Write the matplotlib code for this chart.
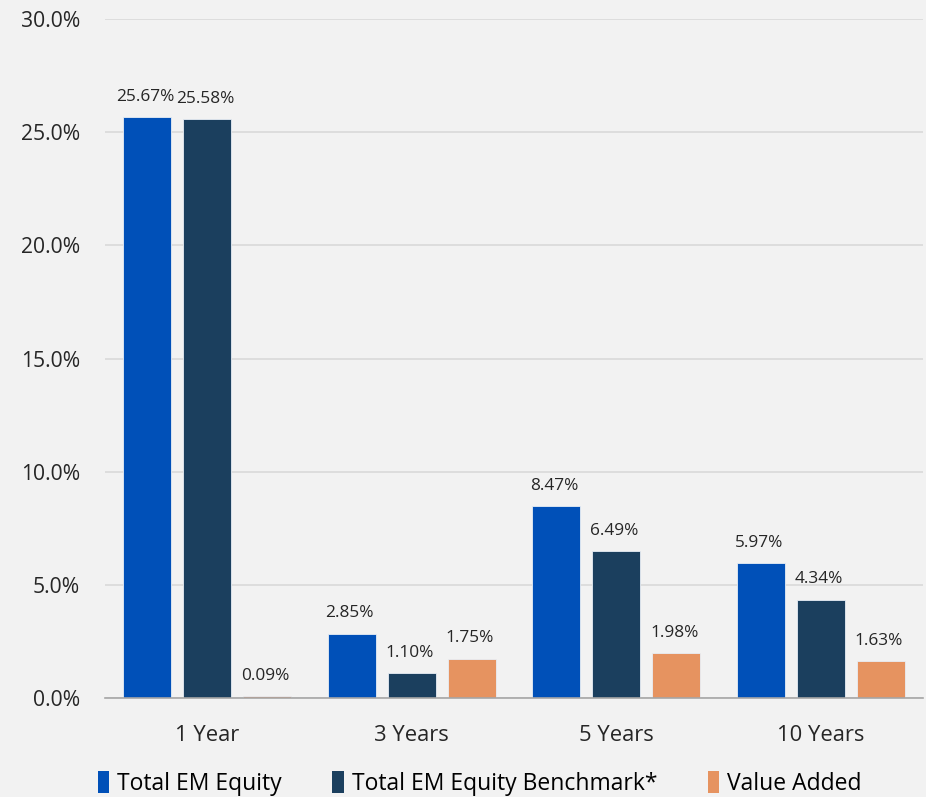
import matplotlib.pyplot as plt
import numpy as np
from matplotlib.patches import Patch

periods = ['1 Year', '3 Years', '5 Years', '10 Years']
em_equity = [25.67, 2.85, 8.47, 5.97]
em_benchmark = [25.58, 1.10, 6.49, 4.34]
value_added = [0.09, 1.75, 1.98, 1.63]
series_names = ['Total EM Equity', 'Total EM Equity Benchmark*', 'Value Added']
series_colors = ['#0050b8', '#1b3f5e', '#e69360']

plt.rcParams['font.family'] = ['Open Sans', 'DejaVu Sans']
bg = '#f2f2f2'

fig = plt.figure(figsize=(9.26, 7.97), dpi=100, facecolor=bg)
ax = fig.add_axes([0.1134, 0.124, 0.8834, 0.852], facecolor=bg)

x = np.arange(len(periods))
width = 0.235
step = 0.293
for k, (vals, color) in enumerate(zip([em_equity, em_benchmark, value_added], series_colors)):
    pos = x + (k - 1) * step
    bars = ax.bar(pos, vals, width=width, color=color, edgecolor='#e8eef5',
                  linewidth=0.6, zorder=3)
    for b, v in zip(bars, vals):
        ax.text(b.get_x() + b.get_width() / 2 - 0.01, v + 0.55, f'{v:.2f}%',
                ha='center', va='bottom', fontsize=12.4, color='#262626')

ax.set_xlim(-0.5, 3.5)
ax.set_ylim(0, 30)
ax.set_yticks(np.arange(0, 31, 5))
ax.set_yticklabels([f'{t:.1f}%' for t in np.arange(0, 31, 5)])
ax.set_xticks(x)
ax.set_xticklabels(periods)
ax.tick_params(axis='both', length=0, colors='#262626')
ax.tick_params(axis='y', pad=18, labelsize=15.2)
ax.tick_params(axis='x', pad=19, labelsize=15.8)
ax.grid(axis='y', color='#d9d9d9', linewidth=1.2, zorder=0)
for side in ['top', 'right', 'left']:
    ax.spines[side].set_visible(False)
ax.spines['bottom'].set_color('#a6a6a6')
ax.spines['bottom'].set_linewidth(1.2)
ax.spines['bottom'].set_zorder(4)

handles = [Patch(facecolor=c, edgecolor='none') for c in series_colors]
fig.legend(handles, series_names, loc='lower center', bbox_to_anchor=(0.518, -0.024),
           ncol=3, frameon=False, handlelength=0.5, handleheight=1.1,
           handletextpad=0.35, columnspacing=2.2,
           prop={'family': ['Open Sans', 'DejaVu Sans'], 'size': 16.5})

fig.savefig('out.png', dpi=100, facecolor=bg)
